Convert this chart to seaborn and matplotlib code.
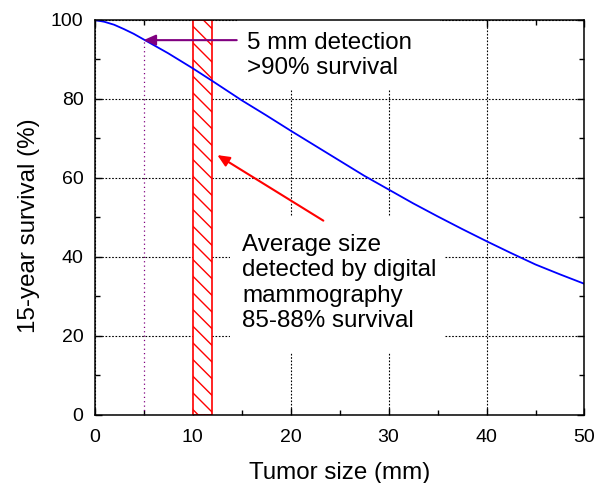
import numpy as np
import pandas as pd
import seaborn as sns
import matplotlib.pyplot as plt
from matplotlib.patches import Rectangle
from matplotlib.ticker import MultipleLocator

# ---- data ----
tumor_size_mm = [0, 1, 2, 3, 4, 5, 7.5, 10, 12, 15, 17.5, 20, 22.5, 25, 27.5, 30,
                 32.5, 35, 37.5, 40, 42.5, 45, 47.5, 50]
survival_pct = [100, 99.55, 98.8, 97.7, 96.5, 95.1, 91.6, 87.8, 84.6, 79.7, 75.9,
                72.0, 68.2, 64.4, 60.6, 57.1, 53.6, 50.3, 47.1, 44.0, 41.0, 38.1,
                35.6, 33.2]
detection_5mm = [5, 95.1]          # size (mm), survival (%)
digital_range_mm = [10, 12]        # average size range for digital mammography
x_ticks = [0, 10, 20, 30, 40, 50]
y_ticks = [0, 20, 40, 60, 80, 100]
label_5mm = "5 mm detection\n>90% survival"
label_digital = "Average size\ndetected by digital\nmammography\n85-88% survival"
x_label = "Tumor size (mm)"
y_label = "15-year survival (%)"

df = pd.DataFrame({"size": tumor_size_mm, "survival": survival_pct})

sns.set_theme(style="ticks")
plt.rcParams['font.family'] = ['Liberation Sans', 'DejaVu Sans']
plt.rcParams['hatch.color'] = 'red'
plt.rcParams['hatch.linewidth'] = 1.0

fig = plt.figure(figsize=(5.96, 4.83), dpi=100)
ax = fig.add_axes([0.1586, 0.1408, 0.8221, 0.8178])

ax.set_xlim(0, 50)
ax.set_ylim(0, 100)
ax.set_xticks(x_ticks)
ax.set_yticks(y_ticks)
ax.xaxis.set_minor_locator(MultipleLocator(5))
ax.yaxis.set_minor_locator(MultipleLocator(10))

ax.set_axisbelow(True)
ax.grid(True, which='major', color='black', linestyle=(0, (1.5, 1.5)), linewidth=0.8)

# white masks behind the text blocks (hide grid there)
ax.add_patch(Rectangle((0.291, 0.823), 0.414, 0.177, transform=ax.transAxes,
                       facecolor='white', edgecolor='none', zorder=0.8))
ax.add_patch(Rectangle((0.2765, 0.157), 0.4385, 0.344, transform=ax.transAxes,
                       facecolor='white', edgecolor='none', zorder=0.8))

# hatched band of average detected size
ax.axvspan(digital_range_mm[0], digital_range_mm[1], facecolor='white',
           edgecolor='red', hatch='\\\\', linewidth=1.2, zorder=1)

# dotted drop line at 5 mm
ax.vlines(detection_5mm[0], 0, detection_5mm[1], colors='#800080',
          linestyles=(0, (1, 2.5)), linewidth=0.9, zorder=1.5)

sns.lineplot(data=df, x="size", y="survival", color='blue', linewidth=1.3,
             ax=ax, zorder=3)

# arrows
ax.annotate('', xy=(detection_5mm[0], detection_5mm[1] - 0.2), xytext=(14.51, 94.9),
            arrowprops=dict(arrowstyle='-|>,head_length=0.72,head_width=0.32',
                            color='#800080', lw=1.5, shrinkA=0, shrinkB=0,
                            mutation_scale=10), zorder=4)
ax.annotate('', xy=(12.53, 65.8), xytext=(23.35, 49.2),
            arrowprops=dict(arrowstyle='-|>,head_length=0.72,head_width=0.32',
                            color='red', lw=1.5, shrinkA=0, shrinkB=0,
                            mutation_scale=10), zorder=4)

ax.text(15.55, 96.96, label_5mm, fontsize=17.4, ha='left', va='top',
        color='black', zorder=5, linespacing=1.2)
ax.text(15.05, 45.8, label_digital, fontsize=17.4, ha='left', va='top',
        color='black', zorder=5, linespacing=1.2)

ax.set_xlabel(x_label, fontsize=17.4, color='black')
ax.set_ylabel(y_label, fontsize=17.4, color='black')
ax.xaxis.set_label_coords(0.5, -0.12)
ax.yaxis.set_label_coords(-0.111, 0.478)

ax.tick_params(which='both', direction='in', top=True, right=True,
               colors='black', width=1.0)
ax.tick_params(which='major', length=5, labelsize=14)
ax.tick_params(which='minor', length=3.5)
ax.tick_params(axis='x', which='major', pad=10)
ax.tick_params(axis='y', which='major', pad=8)

for s in ax.spines.values():
    s.set_visible(True)
    s.set_color('black')
    s.set_linewidth(1.1)
    s.set_zorder(6)

fig.savefig('out.png', dpi=100, facecolor='white')
